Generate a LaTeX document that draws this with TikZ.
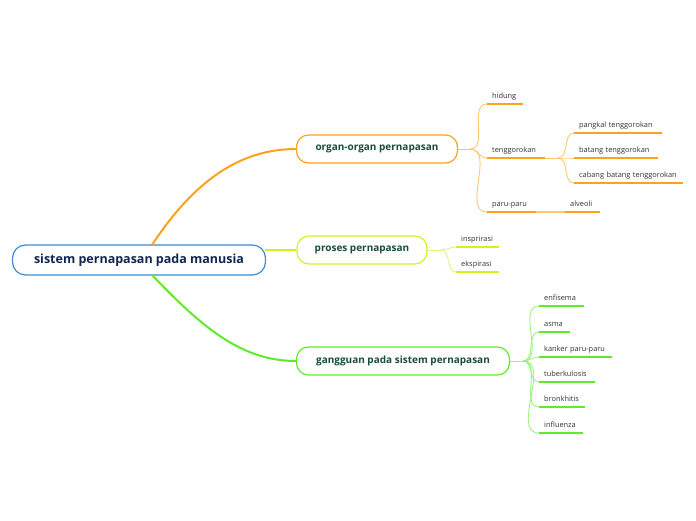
\documentclass[tikz,border=0pt]{standalone}
\usepackage{fontspec}
\setmainfont{Open Sans}
\usepackage{tikz}
\usetikzlibrary{positioning}
\definecolor{rootblue}{HTML}{3A8DD6}
\definecolor{roottext}{HTML}{12264F}
\definecolor{topictext}{HTML}{174D3A}
\definecolor{leaftext}{HTML}{333333}
\definecolor{orgcol}{HTML}{FFA11E}
\definecolor{orgthin}{HTML}{FFC870}
\definecolor{procol}{HTML}{D4F01E}
\definecolor{prothin}{HTML}{E2F57A}
\definecolor{gangcol}{HTML}{5EEB2A}
\definecolor{gangthin}{HTML}{9CF27E}

\begin{document}
\begin{tikzpicture}[x=1pt,y=-1pt,
  rootbox/.style={draw=rootblue,rounded corners=13pt,fill=white,line width=1.2pt,minimum width=253pt,minimum height=30pt,font=\bfseries\fontsize{12.5}{14}\selectfont,text=roottext},
  topic/.style={draw=#1,rounded corners=12pt,fill=white,line width=1.2pt,minimum height=28pt,font=\bfseries\fontsize{10}{12}\selectfont,text=topictext},
  leaf/.style={anchor=south west,inner xsep=5pt,inner ysep=4pt,text width=#1,text height=5.5pt,text depth=1.5pt,font=\fontsize{7.4}{8}\selectfont,text=leaftext},
  ul/.style={line width=2.4pt},
  thin/.style={line width=0.9pt},
  main/.style={line width=2pt}]
\useasboundingbox (0,0) rectangle (696,520);

% main topics
\node[rootbox] (root) at (139,260) {sistem pernapasan pada manusia};
\node[topic=orgcol,minimum width=161pt] (organ) at (377,149) {organ-organ pernapasan};
\node[topic=procol,minimum width=130pt] (proses) at (362,250) {proses pernapasan};
\node[topic=gangcol,minimum width=213pt] (gangguan) at (403,361) {gangguan pada sistem pernapasan};

\coordinate (rtop) at (152,245);
\coordinate (rbot) at (152,275);
\coordinate (rright) at (265,250);
\draw[main,orgcol] (rtop) .. controls (194,181) and (240,149) .. (organ.west);
\draw[main,procol] (rright) -- (proses.west |- rright);
\draw[main,gangcol] (rbot) .. controls (200,325) and (240,361) .. (gangguan.west);

% organ-organ pernapasan
\coordinate (oj) at (470,149);
\node[leaf=26pt] (hidung) at (487,104) {hidung};
\node[leaf=48pt] (tenggorokan) at (487,158) {tenggorokan};
\node[leaf=39pt] (paru) at (487,212) {paru-paru};
\coordinate (tj) at (558,158);
\node[leaf=78pt] (pangkal) at (574,133) {pangkal tenggorokan};
\node[leaf=74pt] (batang) at (574,158) {batang tenggorokan};
\node[leaf=99pt] (cabang) at (574,183) {cabang batang tenggorokan};
\node[leaf=25pt] (alveoli) at (565,212) {alveoli};

\draw[thin,orgthin] (organ.east) -- (oj);
\foreach \n in {hidung,tenggorokan,paru}
  \draw[thin,orgthin] (oj) to[out=0,in=180] (\n.south west);
\draw[thin,orgthin] (tenggorokan.south east) -- (tj);
\foreach \n in {pangkal,batang,cabang}
  \draw[thin,orgthin] (tj) to[out=0,in=180] (\n.south west);
\draw[ul,orgthin] (paru.south east) -- (alveoli.south west);
\foreach \n in {hidung,tenggorokan,paru,pangkal,batang,cabang,alveoli}
  \draw[ul,orgcol] (\n.south west) -- (\n.south east);

% proses pernapasan
\coordinate (pj) at (441,250);
\node[leaf=33pt] (inspirasi) at (456,247) {insprirasi};
\node[leaf=33pt] (ekspirasi) at (456,272) {ekspirasi};

\draw[thin,prothin] (proses.east) -- (pj);
\foreach \n in {inspirasi,ekspirasi}{
  \draw[thin,prothin] (pj) to[out=0,in=180] (\n.south west);
  \draw[ul,procol] (\n.south west) -- (\n.south east);
}

% gangguan pada sistem pernapasan
\coordinate (gj) at (523,361);
\node[leaf=35pt] (enfisema) at (539,306) {enfisema};
\node[leaf=21pt] (asma) at (539,332) {asma};
\node[leaf=63pt] (kanker) at (539,357) {kanker paru-paru};
\node[leaf=46pt] (tbc) at (539,382) {tuberkulosis};
\node[leaf=36pt] (bronkhitis) at (539,407) {bronkhitis};
\node[leaf=34pt] (influenza) at (539,433) {influenza};

\draw[thin,gangthin] (gangguan.east) -- (gj);
\foreach \n in {enfisema,asma,kanker,tbc,bronkhitis,influenza}{
  \draw[thin,gangthin] (gj) to[out=0,in=180] (\n.south west);
  \draw[ul,gangcol] (\n.south west) -- (\n.south east);
}
\end{tikzpicture}
\end{document}
